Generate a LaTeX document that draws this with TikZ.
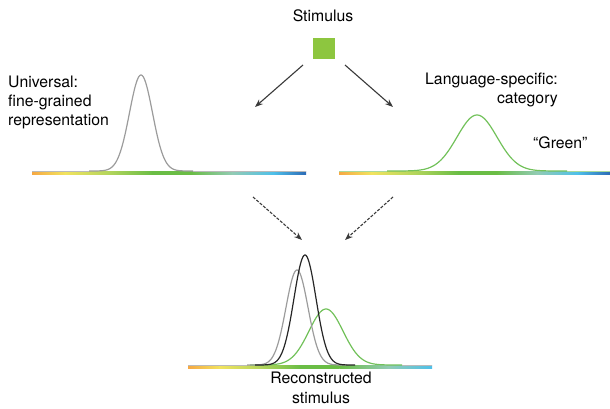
\documentclass[tikz,border=0pt]{standalone}
\usepackage{fontspec}
\setmainfont{TeX Gyre Heros}
\usetikzlibrary{arrows.meta}
\definecolor{sporange}{HTML}{F6A843}
\definecolor{spyellow}{HTML}{F2E35E}
\definecolor{spyg}{HTML}{B3D55C}
\definecolor{spgreen}{HTML}{6ABD45}
\definecolor{spteal}{HTML}{92CBB4}
\definecolor{spcyan}{HTML}{4EC0EA}
\definecolor{spblue}{HTML}{2C6BB6}
\definecolor{stimgreen}{HTML}{8DC63F}
\definecolor{curvegreen}{HTML}{72C15A}
\definecolor{curvegray}{HTML}{9C9C9C}
\definecolor{arrowgray}{HTML}{3A3A3A}
\tikzset{
  lbl/.style={font=\fontsize{15.8}{19.5}\selectfont, inner sep=0pt},
  solidarrow/.style={draw=arrowgray, line width=1.1pt, -{Stealth[length=8pt,width=6pt]}},
  dasharrow/.style={draw=arrowgray, line width=1.1pt, dashed, dash pattern=on 3pt off 1.5pt, -{Stealth[length=8pt,width=6pt]}},
  curve/.style={line width=1.2pt, line join=round},
  tail/.style={line width=0.9pt},
}
% one shaded segment: left x, right x, top y, left colour, right colour
\newcommand{\seg}[5]{\shade[left color=#4, right color=#5] (#1,#3) rectangle ({#2+0.3},{#3+3.5});}
% spectrum bar: #1 = left x, #2 = width, #3 = top y
\newcommand{\specbar}[3]{%
  \seg{#1}{#1+0.12*#2}{#3}{sporange}{spyellow}
  \seg{#1+0.12*#2}{#1+0.28*#2}{#3}{spyellow}{spyg}
  \seg{#1+0.28*#2}{#1+0.44*#2}{#3}{spyg}{spgreen}
  \seg{#1+0.44*#2}{#1+0.58*#2}{#3}{spgreen}{spgreen}
  \seg{#1+0.58*#2}{#1+0.73*#2}{#3}{spgreen}{spteal}
  \seg{#1+0.73*#2}{#1+0.88*#2}{#3}{spteal}{spcyan}
  \seg{#1+0.88*#2}{#1+#2-0.3}{#3}{spcyan}{spblue}
}
\newcommand{\specbarshort}[3]{%
  \seg{#1}{#1+0.13*#2}{#3}{sporange}{spyellow}
  \seg{#1+0.13*#2}{#1+0.3*#2}{#3}{spyellow}{spyg}
  \seg{#1+0.3*#2}{#1+0.46*#2}{#3}{spyg}{spgreen}
  \seg{#1+0.46*#2}{#1+0.62*#2}{#3}{spgreen}{spgreen}
  \seg{#1+0.62*#2}{#1+0.82*#2}{#3}{spgreen}{spteal}
  \seg{#1+0.82*#2}{#1+#2-0.3}{#3}{spteal}{spcyan}
}
\begin{document}
\begin{tikzpicture}[x=1pt,y=-1pt]
\useasboundingbox (0,0) rectangle (610,409);
% stimulus
\node[lbl, anchor=base] (stimtext) at (323,22) {Stimulus};
\node[fill=stimgreen, minimum width=22pt, minimum height=21pt, inner sep=0pt] (stim) at (324,48.5) {};
% bars
\specbar{32}{274}{171}
\specbar{339}{271}{171}
\specbarshort{188}{244}{365}
% bar ends (curve tails)
\coordinate (l0) at (32,171); \coordinate (l1) at (306,171);
\coordinate (r0) at (339,171); \coordinate (r1) at (610,171);
\coordinate (b0) at (188,365); \coordinate (b1) at (432,365);
% left curve
\draw[tail, curvegray!70] (l0) -- (89,171) (193,171) -- (l1);
\draw[curve, curvegray] plot[domain=89:193, samples=120, smooth] (\x, {171 - 96*exp(-0.5*((\x-141)/11.5)^2)});
% right curve
\draw[tail, curvegreen!60] (r0) -- (387,171) (567,171) -- (r1);
\draw[curve, curvegreen] plot[domain=387:567, samples=120, smooth] (\x, {171 - 56*exp(-0.5*((\x-477)/20)^2)});
% bottom curves
\draw[tail, curvegray!70] (b0) -- (247,365) (402,365) -- (b1);
\draw[curve, curvegreen] plot[domain=250:402, samples=120, smooth] (\x, {365 - 56*exp(-0.5*((\x-326)/17)^2)});
\draw[curve, curvegray] plot[domain=247:347, samples=120, smooth] (\x, {365 - 95*exp(-0.5*((\x-297)/11)^2)});
\draw[curve, black!85] plot[domain=255:355, samples=120, smooth] (\x, {365 - 110*exp(-0.5*((\x-305)/11)^2)});
% labels (base anchor = baseline of last line)
\node[lbl, anchor=base west, align=left] (univ) at (8,126) {Universal:\\fine-grained\\representation};
\node[lbl, anchor=base east, align=right] (lang) at (558,104) {Language-specific:\\category};
\node[lbl, anchor=base west] (green) at (533,148) {“Green”};
\node[lbl, anchor=base, align=center] (recon) at (321,403) {Reconstructed\\stimulus};
% arrow endpoints
\coordinate (a1s) at (303,65);
\coordinate (a1e) at (255,107);
\coordinate (a2s) at (345,65);
\coordinate (a2e) at (393,107);
\coordinate (d1s) at (253,197);
\coordinate (d1e) at (302,240);
\coordinate (d2s) at (393,197);
\coordinate (d2e) at (345,240);
\draw[solidarrow] (a1s) -- (a1e);
\draw[solidarrow] (a2s) -- (a2e);
\draw[dasharrow] (d1s) -- (d1e);
\draw[dasharrow] (d2s) -- (d2e);
\end{tikzpicture}
\end{document}
